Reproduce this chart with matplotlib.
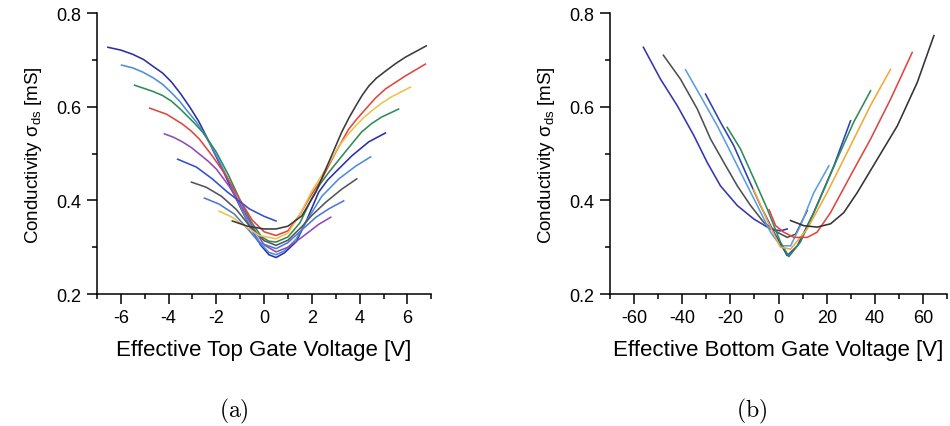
import matplotlib
matplotlib.use("Agg")
import matplotlib.pyplot as plt
from matplotlib.ticker import MultipleLocator

plt.rcParams['font.family'] = ['Liberation Sans', 'DejaVu Sans']
plt.rcParams['mathtext.fontset'] = 'custom'
plt.rcParams['mathtext.rm'] = 'Liberation Sans'
plt.rcParams['mathtext.it'] = 'Liberation Sans:italic'
plt.rcParams['axes.unicode_minus'] = False

# ---- (a) conductivity vs effective top gate voltage ----
top_colors = ['#2b2fa6', '#4a8fd8', '#2e8b57', '#e0463f', '#8e4bb5',
              '#3350c8', '#555555', '#4f78d6', '#f0c24a', '#3a3a3a']

top_v = [
    [-6.54, -6.0, -5.5, -5.05, -4.67, -4.25, -3.88, -3.5, -3.12, -2.75, -2.42, -2.1, -1.75, -1.4, -1.04, -0.6, -0.15, 0.2, 0.5, 0.85, 1.35, 1.8, 2.29, 2.65, 3.0, 3.67, 4.38, 5.08],
    [-5.97, -5.5, -5.08, -4.65, -4.25, -3.9, -3.54, -3.2, -2.83, -2.5, -2.2, -1.9, -1.6, -1.3, -1.04, -0.6, -0.15, 0.2, 0.5, 0.85, 1.35, 1.85, 2.42, 3.13, 3.83, 4.46],
    [-5.42, -4.67, -4.25, -3.88, -3.55, -3.21, -2.9, -2.58, -2.3, -2.0, -1.5, -1.0, -0.55, -0.1, 0.2, 0.5, 1.0, 1.5, 2.0, 2.35, 2.71, 3.42, 4.08, 4.5, 4.92, 5.63],
    [-4.79, -4.08, -3.42, -3.05, -2.71, -2.17, -1.58, -1.0, -0.5, 0.0, 0.5, 1.0, 1.5, 1.95, 2.42, 3.0, 3.54, 3.9, 4.25, 4.65, 5.08, 5.92, 6.75],
    [-4.17, -3.8, -3.42, -3.05, -2.71, -2.35, -2.0, -1.46, -1.0, -0.5, 0.0, 0.5, 1.0, 1.6, 2.29, 2.79],
    [-3.62, -2.83, -2.17, -1.54, -1.0, -0.62, 0.0, 0.5],
    [-3.04, -2.42, -1.79, -1.17, -0.6, 0.0, 0.5, 1.0, 1.6, 2.0, 2.58, 3.25, 3.88],
    [-2.5, -1.88, -1.25, -0.7, -0.2, 0.5, 1.0, 1.6, 2.17, 2.71, 3.33],
    [-1.88, -1.33, -0.8, -0.2, 0.5, 1.0, 1.5, 2.0, 2.58, 3.13, 3.5, 3.83, 4.15, 4.5, 4.9, 5.33, 6.13],
    [-1.33, -0.7, 0.0, 0.5, 1.0, 1.58, 2.17, 2.71, 3.25, 3.55, 3.83, 4.1, 4.38, 4.7, 5.08, 5.5, 5.92, 6.79],
]
top_sigma = [
    [0.727, 0.721, 0.712, 0.701, 0.687, 0.672, 0.653, 0.628, 0.600, 0.570, 0.537, 0.503, 0.467, 0.428, 0.390, 0.345, 0.305, 0.284, 0.278, 0.288, 0.312, 0.360, 0.418, 0.443, 0.461, 0.495, 0.525, 0.544],
    [0.689, 0.683, 0.674, 0.662, 0.648, 0.631, 0.612, 0.590, 0.567, 0.542, 0.515, 0.486, 0.455, 0.423, 0.392, 0.345, 0.308, 0.289, 0.284, 0.292, 0.318, 0.362, 0.409, 0.446, 0.473, 0.493],
    [0.646, 0.633, 0.624, 0.612, 0.597, 0.580, 0.564, 0.546, 0.526, 0.503, 0.455, 0.400, 0.355, 0.322, 0.313, 0.311, 0.322, 0.352, 0.405, 0.435, 0.460, 0.505, 0.546, 0.564, 0.578, 0.595],
    [0.597, 0.584, 0.563, 0.548, 0.531, 0.495, 0.452, 0.400, 0.358, 0.333, 0.325, 0.335, 0.370, 0.410, 0.446, 0.503, 0.552, 0.575, 0.595, 0.618, 0.638, 0.666, 0.691],
    [0.542, 0.535, 0.525, 0.513, 0.499, 0.484, 0.467, 0.430, 0.392, 0.345, 0.305, 0.290, 0.300, 0.322, 0.349, 0.364],
    [0.488, 0.471, 0.446, 0.418, 0.397, 0.382, 0.366, 0.356],
    [0.439, 0.428, 0.409, 0.381, 0.345, 0.314, 0.304, 0.315, 0.345, 0.368, 0.396, 0.424, 0.446],
    [0.405, 0.392, 0.371, 0.340, 0.310, 0.297, 0.310, 0.338, 0.364, 0.382, 0.399],
    [0.377, 0.364, 0.345, 0.325, 0.318, 0.330, 0.370, 0.420, 0.467, 0.516, 0.540, 0.559, 0.576, 0.591, 0.607, 0.621, 0.642],
    [0.356, 0.345, 0.339, 0.339, 0.345, 0.367, 0.418, 0.482, 0.546, 0.576, 0.601, 0.624, 0.644, 0.661, 0.676, 0.692, 0.706, 0.730],
]

# ---- (b) conductivity vs effective bottom gate voltage ----
bot_colors = ['#3236b0', '#505050', '#5a9fe0', '#2d40b5', '#2e8b57',
              '#f2a83a', '#e0463f', '#333333']

bot_v = [
    [-56.1, -49.0, -42.0, -35.1, -29.6, -24.1, -17.1, -10.2, -3.3, 0.8, 3.6],
    [-47.8, -40.7, -33.7, -28.2, -22.7, -17.1, -11.6, -6.1, -0.5, 3.6, 7.1, 11.9],
    [-38.6, -32.4, -25.4, -19.9, -14.4, -8.8, -3.3, 0.8, 5.0, 9.1, 14.6, 20.9],
    [-30.3, -24.1, -18.6, -13.1, -7.5, -1.9, 3.6, 7.8, 14.6, 23.0, 29.9],
    [-21.3, -15.8, -10.2, -4.7, 0.8, 4.3, 9.1, 16.0, 24.3, 31.2, 38.2],
    [-10.4, -4.5, 0.8, 5.0, 11.9, 20.1, 29.9, 38.2, 46.5],
    [-3.9, -1.2, 2.2, 6.4, 11.9, 16.0, 21.6, 29.9, 38.2, 46.5, 55.5],
    [5.0, 10.5, 16.0, 21.6, 27.1, 32.6, 41.0, 49.3, 57.6, 64.5],
]
bot_sigma = [
    [0.727, 0.659, 0.602, 0.538, 0.481, 0.431, 0.389, 0.360, 0.339, 0.335, 0.339],
    [0.710, 0.659, 0.595, 0.531, 0.481, 0.431, 0.389, 0.353, 0.332, 0.321, 0.328, 0.378],
    [0.679, 0.623, 0.559, 0.503, 0.446, 0.389, 0.332, 0.303, 0.303, 0.346, 0.416, 0.474],
    [0.627, 0.567, 0.517, 0.453, 0.389, 0.332, 0.282, 0.303, 0.374, 0.474, 0.570],
    [0.556, 0.510, 0.446, 0.382, 0.311, 0.280, 0.311, 0.389, 0.488, 0.567, 0.634],
    [0.424, 0.355, 0.300, 0.296, 0.339, 0.416, 0.517, 0.603, 0.680],
    [0.380, 0.346, 0.332, 0.321, 0.321, 0.332, 0.374, 0.453, 0.531, 0.616, 0.716],
    [0.357, 0.346, 0.343, 0.350, 0.374, 0.416, 0.488, 0.559, 0.652, 0.752],
]

y_ticks = [0.2, 0.4, 0.6, 0.8]

fig = plt.figure(figsize=(9.5, 4.27), dpi=100)
ax_a = fig.add_axes([0.102, 0.309, 0.352, 0.658])
ax_b = fig.add_axes([0.642, 0.309, 0.355, 0.658])


def style_axes(ax, xmajor, xminor, xlabel):
    for side in ('top', 'right'):
        ax.spines[side].set_visible(False)
    for side in ('left', 'bottom'):
        ax.spines[side].set_linewidth(1.1)
    ax.set_ylim(0.2, 0.8)
    ax.set_yticks(y_ticks)
    ax.yaxis.set_minor_locator(MultipleLocator(0.1))
    ax.xaxis.set_major_locator(MultipleLocator(xmajor))
    ax.xaxis.set_minor_locator(MultipleLocator(xminor))
    ax.tick_params(which='major', direction='out', length=7, width=1.1,
                   labelsize=13, pad=4)
    ax.tick_params(which='minor', direction='out', length=3.5, width=1.1)
    ax.set_ylabel('Conductivity σ$_{\\rm ds}$ [mS]', fontsize=13.5, labelpad=9)
    ax.set_xlabel(xlabel, fontsize=16, labelpad=9)


for v, s, c in zip(top_v, top_sigma, top_colors):
    ax_a.plot(v, s, color=c, lw=1.15)
ax_a.set_xlim(-7, 7)
style_axes(ax_a, 2, 1, 'Effective Top Gate Voltage [V]')
ax_a.set_xticks([-6, -4, -2, 0, 2, 4, 6])

for v, s, c in zip(bot_v, bot_sigma, bot_colors):
    ax_b.plot(v, s, color=c, lw=1.15)
ax_b.set_xlim(-70, 70)
style_axes(ax_b, 20, 10, 'Effective Bottom Gate Voltage [V]')
ax_b.set_xticks([-60, -40, -20, 0, 20, 40, 60])

fig.text(0.246, 0.037, r'$\mathrm{(a)}$', ha='center', va='center',
         fontsize=17, math_fontfamily='cm')
fig.text(0.791, 0.037, r'$\mathrm{(b)}$', ha='center', va='center',
         fontsize=17, math_fontfamily='cm')

fig.savefig('out.png', dpi=100)
